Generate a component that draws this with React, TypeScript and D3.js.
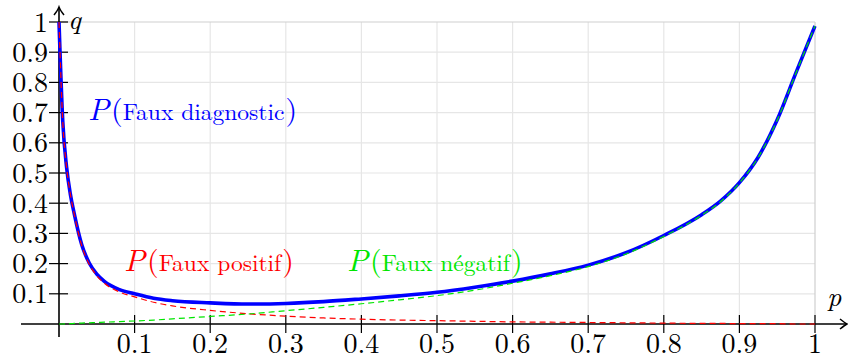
import * as d3 from "d3";

const WIDTH = 848;
const HEIGHT = 360;
// Plot box in pixels: p in [0,1] -> [59,815], q in [0,1] -> [324,22].
const PLOT = { left: 59, right: 815, top: 22, bottom: 324 };

const P_VALUES = [
  0, 0.005, 0.01, 0.015, 0.02, 0.03, 0.04, 0.05, 0.06, 0.08, 0.1, 0.125, 0.15, 0.2, 0.25, 0.3,
  0.35, 0.4, 0.45, 0.5, 0.55, 0.6, 0.65, 0.7, 0.75, 0.8, 0.85, 0.875, 0.9, 0.925, 0.95, 0.975, 1,
];
const FAUX_POSITIF = [
  1.0, 0.67, 0.52, 0.43, 0.365, 0.26, 0.198, 0.16, 0.135, 0.106, 0.09, 0.072, 0.06, 0.045, 0.034,
  0.026, 0.02, 0.016, 0.013, 0.011, 0.009, 0.007, 0.006, 0.005, 0.004, 0.003, 0.002, 0.002, 0.001,
  0.001, 0.001, 0, 0,
];
const FAUX_NEGATIF = [
  0, 0, 0.001, 0.001, 0.002, 0.003, 0.004, 0.005, 0.006, 0.008, 0.01, 0.013, 0.017, 0.025, 0.033,
  0.044, 0.055, 0.067, 0.08, 0.094, 0.112, 0.135, 0.16, 0.19, 0.232, 0.29, 0.36, 0.405, 0.467,
  0.552, 0.675, 0.832, 0.987,
];
const FAUX_DIAGNOSTIC = [
  1.0, 0.67, 0.52, 0.43, 0.367, 0.263, 0.202, 0.165, 0.141, 0.114, 0.1, 0.085, 0.077, 0.07, 0.066,
  0.068, 0.074, 0.083, 0.093, 0.105, 0.122, 0.142, 0.166, 0.195, 0.236, 0.293, 0.362, 0.407, 0.468,
  0.553, 0.676, 0.833, 0.987,
];

const TICKS = [0.1, 0.2, 0.3, 0.4, 0.5, 0.6, 0.7, 0.8, 0.9, 1];
const TICK_LABELS = ["0.1", "0.2", "0.3", "0.4", "0.5", "0.6", "0.7", "0.8", "0.9", "1"];

const FONT = '"Latin Modern Roman", "Liberation Serif", serif';
const BLUE = "#0000ff";
const RED = "#ff0000";
const GREEN = "#00e600";

const x = d3.scaleLinear().domain([0, 1]).range([PLOT.left, PLOT.right]);
const y = d3.scaleLinear().domain([0, 1]).range([PLOT.bottom, PLOT.top]);

const curve = d3
  .line<number>()
  .x((_, i) => x(P_VALUES[i]))
  .y((d) => y(d))
  .curve(d3.curveMonotoneX);

interface LabelProps {
  p: number;
  q: number;
  body: string;
  bodySize: number;
  color: string;
}

// P(...) annotation in one text run: italic P, tall parens, upright event name.
function ProbLabel({ p, q, body, bodySize, color }: LabelProps) {
  return (
    <text x={x(p)} y={y(q)} fill={color} style={{ fontFamily: FONT }}>
      <tspan fontSize={31} fontStyle="italic">
        P
      </tspan>
      <tspan fontSize={30} dx={2}>
        (
      </tspan>
      <tspan fontSize={bodySize}>{body}</tspan>
      <tspan fontSize={30} dx={1}>
        )
      </tspan>
    </text>
  );
}

export default function App() {
  const x0 = x(0);
  const y0 = y(0);
  const font = { fontFamily: FONT };

  return (
    <svg
      width={WIDTH}
      height={HEIGHT}
      viewBox={`0 0 ${WIDTH} ${HEIGHT}`}
      style={{ position: "absolute", left: 0, top: 0, background: "#fff" }}
    >
      {/* grid */}
      <g fill="none" strokeWidth={1.2}>
        {TICKS.map((t) => (
          <g key={`g${t}`} stroke={t === 1 ? "#cfcfcf" : "#e6e6e6"}>
            <line x1={x(t)} x2={x(t)} y1={y(0)} y2={y(1)} />
            <line x1={x(0)} x2={x(1)} y1={y(t)} y2={y(t)} />
          </g>
        ))}
      </g>

      {/* axes with arrow heads */}
      <g stroke="#000" fill="none">
        <line x1={21} x2={WIDTH - 1.5} y1={y0} y2={y0} strokeWidth={1.6} />
        <line x1={x0} x2={x0} y1={337} y2={7.5} strokeWidth={1.6} />
        <path
          d={`M${WIDTH - 8},${y0 - 5} Q${WIDTH - 3},${y0 - 1} ${WIDTH - 1},${y0} Q${WIDTH - 3},${y0 + 1} ${WIDTH - 8},${y0 + 5}`}
          strokeWidth={1.5}
        />
        <path d={`M${x0 - 5},15 Q${x0 - 1},10 ${x0},7 Q${x0 + 1},10 ${x0 + 5},15`} strokeWidth={1.5} />
        {TICKS.map((t) => (
          <g key={`t${t}`} strokeWidth={1.2}>
            <line x1={x(t)} x2={x(t)} y1={y0 - 9} y2={y0 + 9} />
            <line x1={x0 - 10} x2={x0 + 9} y1={y(t)} y2={y(t)} />
          </g>
        ))}
      </g>

      {/* tick labels */}
      <g fill="#000" fontSize={28}>
        {TICKS.map((t, i) => (
          <text key={`xl${t}`} x={x(t)} y={y0 + 29} textAnchor="middle" style={font}>
            {TICK_LABELS[i]}
          </text>
        ))}
        {TICKS.map((t, i) => (
          <text key={`yl${t}`} x={x0 - 11} y={y(t) + 9.5} textAnchor="end" style={font}>
            {TICK_LABELS[i]}
          </text>
        ))}
        <text x={x0 + 9} y={29} fontStyle="italic" style={font}>
          q
        </text>
        <text x={827} y={306} fontStyle="italic" style={font}>
          p
        </text>
      </g>

      {/* curves */}
      <path d={curve(FAUX_DIAGNOSTIC) ?? ""} fill="none" stroke={BLUE} strokeWidth={3.6} strokeLinejoin="round" />
      <path d={curve(FAUX_POSITIF) ?? ""} fill="none" stroke={RED} strokeWidth={1.2} strokeDasharray="6,4" />
      <path d={curve(FAUX_NEGATIF) ?? ""} fill="none" stroke={GREEN} strokeWidth={1.2} strokeDasharray="6,4" />

      {/* annotations */}
      <ProbLabel p={0.0384} q={0.675} body="Faux diagnostic" bodySize={23.5} color={BLUE} />
      <ProbLabel p={0.086} q={0.175} body="Faux positif" bodySize={23.5} color={RED} />
      <ProbLabel p={0.381} q={0.175} body="Faux négatif" bodySize={23.5} color={GREEN} />
    </svg>
  );
}
